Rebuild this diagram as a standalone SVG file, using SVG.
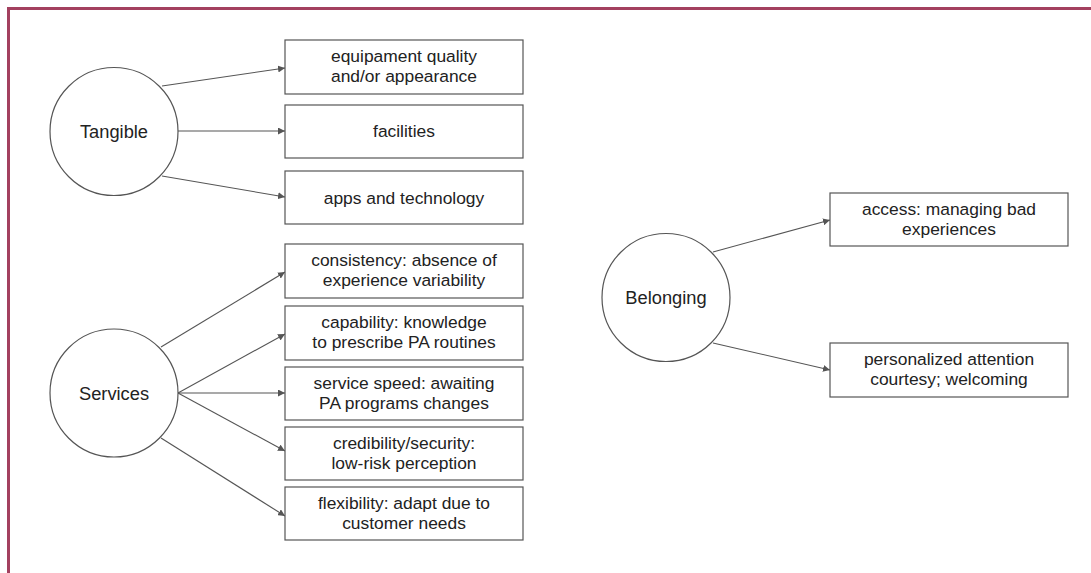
<svg xmlns="http://www.w3.org/2000/svg" width="1091" height="573" viewBox="0 0 1091 573">
  <style>
    .node-shape { fill: #ffffff; stroke: #555555; stroke-width: 1.2; }
    .edge { stroke: #555555; stroke-width: 1.1; fill: none; marker-end: url(#arrow); }
    .label { font-family: "Liberation Sans", Arial, sans-serif; font-size: 17.4px; fill: #222222; text-anchor: middle; }
    .hub { font-size: 18.3px; }
    .frame { stroke: #a3405f; stroke-width: 3; fill: none; }
  </style>
  <defs>
    <marker id="arrow" viewBox="0 0 10 10" refX="10" refY="5" markerWidth="7" markerHeight="7" markerUnits="userSpaceOnUse" orient="auto">
      <path d="M0,0 L10,5 L0,10 z" fill="#555555"/>
    </marker>
  </defs>

  <rect width="1091" height="573" fill="#ffffff"/>
  <!-- frame: top and left rules -->
  <path class="frame" d="M8.5,573 V8.5 H1091"/>

  <!-- connectors -->
  <g id="connectors">
    <line class="edge" x1="162" y1="86" x2="285" y2="68"/>
    <line class="edge" x1="178" y1="131" x2="285" y2="131"/>
    <line class="edge" x1="162" y1="176" x2="285" y2="197"/>

    <line class="edge" x1="161" y1="347" x2="285" y2="272"/>
    <line class="edge" x1="178" y1="393" x2="285" y2="334"/>
    <line class="edge" x1="178" y1="393" x2="285" y2="393"/>
    <line class="edge" x1="178" y1="393" x2="285" y2="451"/>
    <line class="edge" x1="161" y1="438" x2="285" y2="516"/>

    <line class="edge" x1="713" y1="252" x2="830" y2="220"/>
    <line class="edge" x1="713" y1="343" x2="830" y2="370"/>
  </g>

  <!-- hubs -->
  <g id="tangible">
    <circle class="node-shape" cx="114" cy="131.5" r="64"/>
    <text class="label hub" x="114" y="138">Tangible</text>
  </g>
  <g id="services">
    <circle class="node-shape" cx="114" cy="393" r="64"/>
    <text class="label hub" x="114" y="399.5">Services</text>
  </g>
  <g id="belonging">
    <circle class="node-shape" cx="666" cy="297.5" r="64"/>
    <text class="label hub" x="666" y="304">Belonging</text>
  </g>

  <!-- Tangible items -->
  <g id="equipment">
    <rect class="node-shape" x="285" y="40" width="238" height="54"/>
    <text class="label" x="404" y="62">equipament quality</text>
    <text class="label" x="404" y="82">and/or appearance</text>
  </g>
  <g id="facilities">
    <rect class="node-shape" x="285" y="105" width="238" height="53"/>
    <text class="label" x="404" y="137">facilities</text>
  </g>
  <g id="apps">
    <rect class="node-shape" x="285" y="171" width="238" height="53"/>
    <text class="label" x="404" y="203.5">apps and technology</text>
  </g>

  <!-- Services items -->
  <g id="consistency">
    <rect class="node-shape" x="285" y="244" width="238" height="54"/>
    <text class="label" x="404" y="266">consistency: absence of</text>
    <text class="label" x="404" y="286">experience variability</text>
  </g>
  <g id="capability">
    <rect class="node-shape" x="285" y="306" width="238" height="54"/>
    <text class="label" x="404" y="328">capability: knowledge</text>
    <text class="label" x="404" y="348">to prescribe PA routines</text>
  </g>
  <g id="speed">
    <rect class="node-shape" x="285" y="367" width="238" height="53"/>
    <text class="label" x="404" y="388.5">service speed: awaiting</text>
    <text class="label" x="404" y="408.5">PA programs changes</text>
  </g>
  <g id="credibility">
    <rect class="node-shape" x="285" y="427" width="238" height="53"/>
    <text class="label" x="404" y="448.5">credibility/security:</text>
    <text class="label" x="404" y="468.5">low-risk perception</text>
  </g>
  <g id="flexibility">
    <rect class="node-shape" x="285" y="487" width="238" height="53"/>
    <text class="label" x="404" y="508.5">flexibility: adapt due to</text>
    <text class="label" x="404" y="528.5">customer needs</text>
  </g>

  <!-- Belonging items -->
  <g id="access">
    <rect class="node-shape" x="830" y="193" width="238" height="53"/>
    <text class="label" x="949" y="214.5">access: managing bad</text>
    <text class="label" x="949" y="234.5">experiences</text>
  </g>
  <g id="attention">
    <rect class="node-shape" x="830" y="343" width="238" height="54"/>
    <text class="label" x="949" y="365">personalized attention</text>
    <text class="label" x="949" y="385">courtesy; welcoming</text>
  </g>
</svg>
